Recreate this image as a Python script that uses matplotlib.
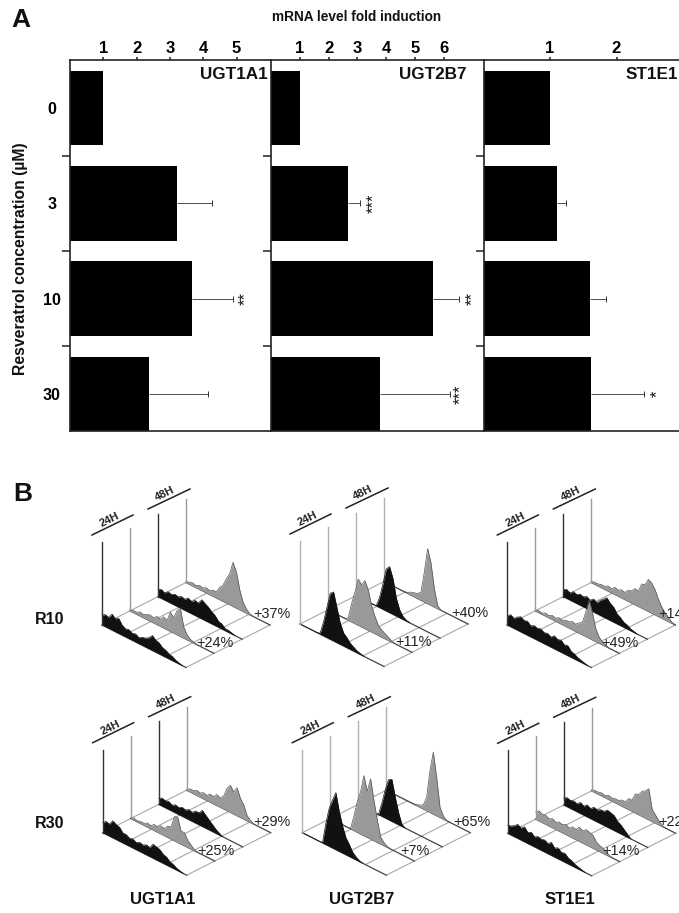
import numpy as np
import matplotlib
matplotlib.use('Agg')
import matplotlib.pyplot as plt
from matplotlib.transforms import Affine2D

plt.rcParams['font.family'] = ['Liberation Sans', 'DejaVu Sans']

W, H = 679, 913

# panel A
concentrations = ['0', '3', '10', '30']
genes = ['UGT1A1', 'UGT2B7', 'ST1E1']
ugt1a1_fold = [1.0, 3.21, 3.66, 2.37]
ugt1a1_err = [0, 1.05, 1.24, 1.77]
ugt2b7_fold = [1.0, 2.67, 5.63, 3.78]
ugt2b7_err = [0, 0.42, 0.90, 2.42]
st1e1_fold = [1.0, 1.105, 1.60, 1.62]
st1e1_err = [0, 0.135, 0.24, 0.79]
ugt1a1_stars = [(5.28, 2, '**')]
ugt2b7_stars = [(3.54, 1, '***'), (6.98, 2, '**'), (6.58, 3, '***')]
st1e1_stars = [(2.61, 3, '*')]

# panel B: histogram heights in px, one value per 0.04 of the axis
# order is 24H black, 24H grey, 48H black, 48H grey
r10_ugt1a1 = [
    [10, 12, 11, 16, 13, 15, 10, 8, 9, 7, 8, 6, 8, 9, 11, 15, 12, 11, 8, 7, 5, 4, 2, 1, 0],
    [1, 2, 2, 4, 3, 5, 6, 5, 8, 7, 11, 9, 19, 15, 24, 28, 11, 5, 2, 1, 0],
    [7, 9, 7, 10, 9, 11, 10, 12, 11, 14, 12, 15, 14, 19, 17, 15, 12, 10, 6, 5, 2, 2, 1, 0],
    [1, 2, 3, 2, 4, 3, 5, 4, 6, 6, 12, 16, 24, 31, 44, 36, 20, 9, 4, 1, 0],
]
r10_ugt2b7 = [
    [0, 0, 0, 0, 0, 0, 1, 14, 30, 46, 49, 35, 21, 13, 10, 6, 4, 2, 1, 0],
    [0, 0, 0, 0, 0, 0, 2, 18, 31, 46, 42, 48, 40, 26, 17, 10, 7, 5, 3, 1, 0],
    [0, 0, 0, 0, 0, 0, 0, 10, 25, 42, 46, 36, 18, 8, 3, 1, 0],
    [0, 0, 0, 0, 0, 0, 0, 1, 3, 4, 5, 8, 30, 55, 42, 18, 3, 0],
]
r10_st1e1 = [
    [9, 12, 10, 13, 15, 13, 14, 11, 13, 12, 13, 11, 12, 10, 13, 11, 12, 9, 10, 6, 5, 3, 2, 1, 0],
    [1, 2, 1, 3, 2, 4, 3, 5, 4, 6, 6, 8, 7, 10, 12, 24, 38, 27, 13, 6, 3, 1, 0],
    [7, 9, 7, 10, 9, 11, 10, 12, 10, 13, 11, 15, 18, 21, 17, 15, 10, 8, 5, 4, 2, 1, 0],
    [1, 2, 2, 3, 3, 5, 4, 7, 6, 8, 7, 11, 12, 16, 15, 24, 25, 32, 30, 25, 17, 11, 7, 4, 1, 0],
]
r30_ugt1a1 = [
    [10, 13, 12, 17, 15, 14, 10, 10, 8, 9, 7, 9, 8, 10, 9, 14, 13, 12, 9, 8, 5, 4, 2, 1, 0],
    [1, 2, 1, 2, 2, 4, 3, 6, 5, 8, 7, 11, 12, 24, 25, 13, 13, 7, 4, 1, 0],
    [6, 8, 7, 8, 6, 8, 7, 9, 8, 10, 9, 12, 12, 16, 13, 10, 7, 4, 2, 0],
    [1, 3, 3, 5, 4, 6, 5, 8, 7, 11, 9, 13, 22, 27, 22, 28, 19, 14, 5, 2, 0],
]
r30_ugt2b7 = [
    [0, 0, 0, 0, 0, 0, 0, 21, 38, 48, 57, 40, 27, 17, 12, 6, 3, 1, 0],
    [0, 0, 0, 0, 0, 0, 0, 14, 30, 42, 60, 46, 60, 40, 22, 7, 3, 1, 0],
    [0, 0, 0, 0, 0, 0, 0, 13, 28, 40, 42, 26, 12, 2, 0],
    [0, 0, 0, 0, 0, 0, 0, 0, 0, 1, 2, 4, 13, 42, 62, 38, 10, 3, 0],
]
r30_st1e1 = [
    [8, 9, 11, 14, 12, 15, 11, 13, 10, 12, 11, 12, 10, 13, 9, 11, 8, 9, 6, 5, 3, 2, 1, 0],
    [7, 10, 8, 9, 7, 9, 7, 9, 8, 10, 8, 11, 10, 14, 12, 15, 14, 13, 8, 6, 5, 3, 1, 0],
    [7, 9, 8, 9, 8, 11, 9, 12, 10, 13, 12, 14, 14, 17, 16, 15, 11, 9, 6, 3, 0],
    [1, 2, 2, 3, 2, 4, 3, 4, 4, 6, 6, 11, 11, 19, 20, 25, 27, 31, 12, 8, 4, 1, 0],
]
spike_height = 83
r10_labels = [('+24%', '+37%'), ('+11%', '+40%'), ('+49%', '+14%')]
r30_labels = [('+25%', '+29%'), ('+7%', '+65%'), ('+14%', '+22%')]


def px_axes(x0, y0, x1, y1):
    return fig.add_axes([x0 / W, 1 - y1 / H, (x1 - x0) / W, (y1 - y0) / H])


fig = plt.figure(figsize=(W / 100, H / 100), dpi=100)

# ---- panel A ----
panels = [
    (70, 271, 33.3, [1, 2, 3, 4, 5], ugt1a1_fold, ugt1a1_err, ugt1a1_stars),
    (271, 483, 28.8, [1, 2, 3, 4, 5, 6], ugt2b7_fold, ugt2b7_err, ugt2b7_stars),
    (483.5, 679, 66.5, [1, 2], st1e1_fold, st1e1_err, st1e1_stars),
]
for i, (x0, x1, scale, ticks, fold, err, stars) in enumerate(panels):
    ax = px_axes(x0, 60.5, x1, 431)
    ypos = np.arange(len(fold))
    fold = np.array(fold)
    err = np.array(err)
    ax.barh(ypos, fold, height=0.78, color='black', zorder=2)
    # only upper error bars
    has_err = err > 0
    ax.hlines(ypos[has_err], fold[has_err], (fold + err)[has_err], color='#333333', lw=0.6, zorder=1)
    ax.plot((fold + err)[has_err], ypos[has_err], '|', color='#333333', ms=4.5, mew=0.7, zorder=1)
    ax.set_xlim(0, (x1 - x0) / scale)
    ax.set_ylim(3.388, -0.498)
    ax.xaxis.tick_top()
    ax.set_xticks(ticks)
    ax.set_xticklabels([str(t) for t in ticks], fontsize=12, fontweight='bold')
    ax.tick_params(axis='x', length=2.2, width=1.1, pad=0.8, color='#222222')
    ax.set_yticks([0.5, 1.5, 2.5])
    ax.set_yticklabels([])
    ax.tick_params(axis='y', which='major', length=5.5, width=1.1, color='#222222')
    ax.set_yticks(ypos, minor=True)
    if i == 0:
        ax.set_yticklabels(concentrations, minor=True, fontsize=11.5, fontweight='bold', ha='center')
        ax.tick_params(axis='y', which='minor', length=0, pad=13)
        ax.set_ylabel('Resveratrol concentration (µM)', fontsize=11.3, fontweight='bold', color='#111111')
        ax.yaxis.set_label_coords(-42 / (x1 - x0), 0.465)
    else:
        ax.tick_params(axis='y', which='minor', length=0, labelleft=False)
    for side in ['top', 'bottom', 'left']:
        ax.spines[side].set_linewidth(1.2)
        ax.spines[side].set_color('#222222')
    ax.spines['right'].set_visible(False)
    ax.text(1 - 3 / (x1 - x0) if i == 0 else 1 - (17 / (x1 - x0) if i == 1 else 1 / (x1 - x0)), 0.962,
            genes[i], transform=ax.transAxes, ha='right', va='center',
            fontsize=12.3, fontweight='bold', color='#111111', zorder=5)
    for sx, sy, mark in stars:
        ax.text(sx, sy, mark, rotation=90, ha='center', va='center', fontsize=12, color='#111111')

# ---- panel B, drawn in figure pixels with a skewed floor ----
over = fig.add_axes([0, 0, 1, 1])
over.set_xlim(0, W)
over.set_ylim(H, 0)
over.axis('off')
over.patch.set_alpha(0)
over.set_autoscale_on(False)

DX, DY = 84, 42.5


def trace_transform(ox, oy, v):
    # (position along axis, height in px) to figure pixels
    return Affine2D.from_values(DX, DY, 0, -1, ox + v * DX, oy - v * DY) + over.transData


def draw_block(ox, oy, traces, labels, pale_lines):
    floor = Affine2D.from_values(DX, DY, DX, -DY, ox, oy) + over.transData
    for f in [0.25, 0.5, 0.75, 1.0]:
        over.plot([f, f], [0, 1], color='#a8a8a8', lw=0.8, transform=floor, zorder=2)
    over.plot([0, 0], [0, 1], color='#a8a8a8', lw=0.8, transform=floor, zorder=2)
    for j, heights in reversed(list(enumerate(traces))):
        v = j / 3
        tr = trace_transform(ox, oy, v)
        u = np.arange(len(heights)) * 0.04
        black = j % 2 == 0
        fill = '#111111' if black else '#999999'
        edge = '#111111' if black else '#555555'
        z = 3 + (3 - j)
        over.plot([0, 1], [0, 0], color='#444444', lw=0.9, transform=tr, zorder=z)
        over.fill_between(u, 0, heights, color=fill, lw=0, transform=tr, zorder=z)
        over.plot(u, heights, color=edge, lw=0.5, transform=tr, zorder=z)
        spike_color = '#b0b0b0' if pale_lines else ('#333333' if black else '#999999')
        over.plot([0, 0], [0, spike_height], color=spike_color, lw=1.0, transform=tr, zorder=z)
    # time headers
    over.plot([ox - 10, ox + 31], [oy - 90, oy - 110], color='#222222', lw=1.1, zorder=10)
    over.plot([ox + 46, ox + 88], [oy - 116, oy - 136], color='#222222', lw=1.1, zorder=10)
    over.text(ox + 8, oy - 105, '24H', rotation=26, ha='center', va='center', fontsize=8,
              fontweight='bold', color='#222222', zorder=10)
    over.text(ox + 63, oy - 131, '48H', rotation=26, ha='center', va='center', fontsize=8,
              fontweight='bold', color='#222222', zorder=10)
    over.text(ox + 113, oy + 18, labels[0], ha='center', va='center', fontsize=10.4,
              color='#222222', zorder=11)
    over.text(ox + 151, oy - 11, labels[1], ha='left', va='center', fontsize=10.4,
              color='#222222', zorder=11, clip_on=False)


r10_blocks = [(102, 625, r10_ugt1a1), (300, 624, r10_ugt2b7), (507.3, 625, r10_st1e1)]
r30_blocks = [(102.7, 832.7, r30_ugt1a1), (302.3, 832.7, r30_ugt2b7), (507.7, 833.3, r30_st1e1)]
for k, (ox, oy, traces) in enumerate(r10_blocks):
    draw_block(ox, oy, traces, r10_labels[k], k == 1)
for k, (ox, oy, traces) in enumerate(r30_blocks):
    draw_block(ox, oy, traces, r30_labels[k], k == 1)

# ---- loose labels ----
over.text(11, 20, 'A', fontsize=19, fontweight='bold', va='center', color='#111111')
over.text(13, 494, 'B', fontsize=19, fontweight='bold', va='center', color='#111111')
over.text(356.5, 17, 'mRNA level fold induction', fontsize=9.8, fontweight='bold',
          ha='center', va='center', color='#111111')
over.text(50, 619, 'R10', fontsize=11.5, fontweight='bold', ha='center', va='center', color='#111111')
over.text(50, 823, 'R30', fontsize=11.5, fontweight='bold', ha='center', va='center', color='#111111')
for x, name in zip([163, 361.7, 570], genes):
    over.text(x, 899.5, name, fontsize=12, fontweight='bold', ha='center', va='center', color='#111111')

fig.savefig('out.png', dpi=100)
